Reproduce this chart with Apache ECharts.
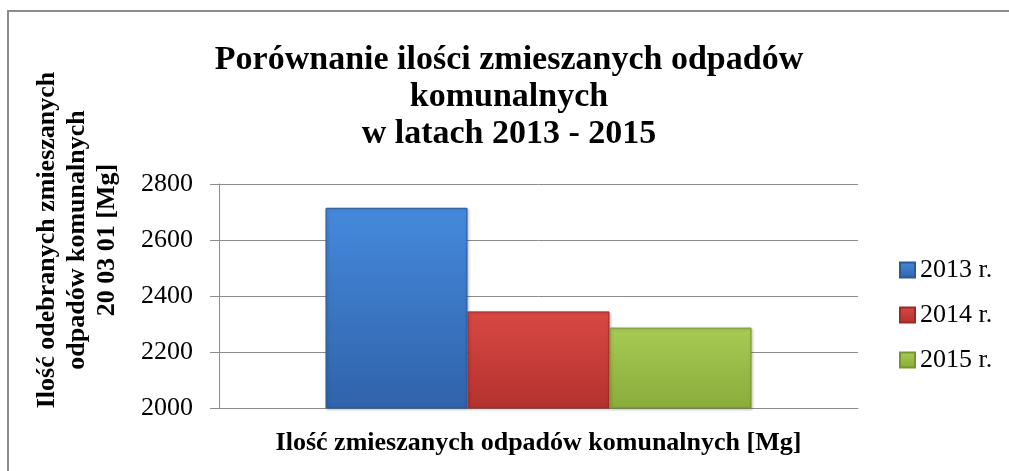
<!DOCTYPE html>
<html>
<head>
<meta charset="utf-8">
<script src="https://cdn.jsdelivr.net/npm/echarts@6/dist/echarts.min.js"></script>
<style>
    html, body { margin: 0; padding: 0; background: #fff; }
    #chart { width: 1009px; height: 471px; }
</style>
</head>
<body>
<div id="chart"></div>
<script>
// dane
var categories = ['Ilość zmieszanych odpadów komunalnych [Mg]'];
var years = ['2013 r.', '2014 r.', '2015 r.'];
var values = [2715, 2345, 2287];
var yTicks = [2000, 2200, 2400, 2600, 2800];

var serif = '"Liberation Serif", "DejaVu Serif", serif';

// kolory słupków (góra, dół, obramowanie)
var colors = [
    ['#4589dc', '#3063aa', '#2a5a98'],
    ['#d94843', '#b3322e', '#9a2b27'],
    ['#a8cb55', '#89ac3b', '#76952f']
];

function grad(c) {
    return new echarts.graphic.LinearGradient(0, 0, 0, 1, [
        { offset: 0, color: c[0] },
        { offset: 1, color: c[1] }
    ]);
}

var series = [];
for (var i = 0; i < years.length; i++) {
    series.push({
        name: years[i],
        type: 'bar',
        data: [values[i]],
        barWidth: 142,
        barGap: '0%',
        itemStyle: {
            color: grad(colors[i]),
            borderColor: colors[i][2],
            borderWidth: 1,
            shadowColor: 'rgba(0,0,0,0.25)',
            shadowBlur: 3,
            shadowOffsetX: 1,
            shadowOffsetY: 1
        }
    });
}

var chart = echarts.init(document.getElementById('chart'));

var option = {
    animation: false,
    title: {
        text: 'Porównanie ilości zmieszanych odpadów\nkomunalnych\nw latach 2013 - 2015',
        left: 509,
        top: 42,
        padding: 0,
        textAlign: 'center',
        textStyle: { fontFamily: serif, fontSize: 34, fontWeight: 'bold', color: '#000', lineHeight: 37 }
    },
    legend: {
        orient: 'vertical',
        left: 899,
        top: 257,
        padding: 0,
        itemWidth: 15,
        itemHeight: 15,
        itemGap: 19,
        icon: 'rect',
        data: years,
        textStyle: { fontFamily: serif, fontSize: 26, color: '#000', lineHeight: 26 }
    },
    grid: { left: 219, right: 151, top: 184, bottom: 63 },
    xAxis: {
        type: 'category',
        data: categories,
        name: categories[0],
        nameLocation: 'middle',
        nameGap: 22,
        nameTextStyle: { fontFamily: serif, fontSize: 26, fontWeight: 'bold', color: '#000' },
        axisLine: { lineStyle: { color: '#8c8c8c', width: 1 } },
        axisTick: { show: false },
        axisLabel: { show: false }
    },
    yAxis: {
        type: 'value',
        min: yTicks[0],
        max: yTicks[yTicks.length - 1],
        interval: 200,
        axisLine: { show: true, lineStyle: { color: '#8c8c8c', width: 1 } },
        axisTick: { show: true, length: 9, lineStyle: { color: '#8c8c8c' } },
        axisLabel: {
            margin: 26,
            fontFamily: serif,
            fontSize: 26,
            color: '#000',
            formatter: function (v) { return String(v); }
        },
        splitLine: { lineStyle: { color: '#8c8c8c', width: 1 } }
    },
    graphic: [{
        type: 'rect',
        shape: { x: 8, y: 11, width: 1100, height: 600 },
        style: { fill: 'none', stroke: '#8c8c8c', lineWidth: 2 },
        silent: true
    }, {
        type: 'text',
        x: 77,
        y: 240,
        rotation: Math.PI / 2,
        style: {
            text: 'Ilość odebranych zmieszanych\nodpadów komunalnych\n20 03 01 [Mg]',
            font: 'bold 26px ' + serif,
            fill: '#000',
            align: 'center',
            verticalAlign: 'middle',
            lineHeight: 30
        }
    }],
    series: series
};

chart.setOption(option);
</script>
</body>
</html>
